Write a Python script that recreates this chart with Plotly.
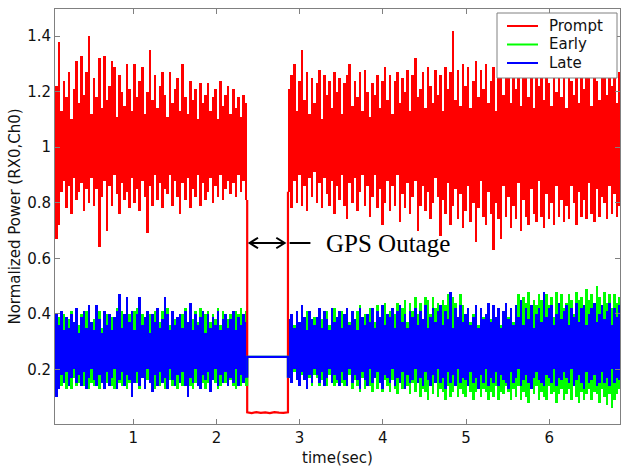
import numpy as np
import plotly.graph_objects as go

# Correlator power, in hundredths of normalized power, stored as per-bin
# maximum / minimum of the raw samples (min-max decimation of the record).
prompt_pre_max = [122,138,113,124,118,127,110,121,131,116, 133,119,127,140,112,125,118,132,114,133,
                  117,122,131,129,111,126,120,115,130,121, 113,130,118,124,129,112,120,135,117,126,
                  114,122,127,119,111,127,116,121,125,113, 130,118,112,124,117,121,110,123,116,119,
                  123,113,118,121,110,124,115,119,122,112, 121,114,118,111,119,116]
prompt_pre_min = [67,72,84,88,78,86,76,89,81,84, 87,77,85,80,89,79,85,64,82,88,
                  70,86,79,90,83,76,87,81,84,78, 89,80,85,77,88,82,69,86,79,90,
                  81,87,78,85,83,90,79,88,82,76, 87,81,89,78,85,82,90,79,87,81,
                  84,89,80,86,82,90,81,85,88,83, 87,82,90,84,88,81]
prompt_gap = [4.5, 4.2, 4.6, 4.3, 4.5, 4.2, 4.6, 4.4, 4.3, 4.5]
prompt_post_max = [121,126,130,113,124,135,117,127,112,125, 116,123,128,110,126,119,124,114,127,120,
                   125,112,123,126,130,115,124,118,127,113, 128,120,111,123,119,126,114,124,129,117,
                   126,112,124,127,116,125,120,128,113,126, 132,118,121,127,114,129,122,116,128,119,
                   126,113,129,121,127,142,117,128,115,130, 122,129,114,124,131,118,128,121,130,116,
                   124,129,113,133,125,119,127,131,116,129, 121,130,115,128,132,118,129,114,130,122,
                   128,117,131,123,115,129,120,132,118,128, 114,130,124,119,126,116,131,121,127,130,
                   115,129,124,117,127,131,119,129,122,128,116,127]
prompt_post_min = [84,78,88,80,90,79,86,77,89,82, 91,80,87,78,89,83,79,88,76,86,
                   81,90,79,74,87,80,89,77,84,90, 79,86,75,82,90,78,85,72,80,88,
                   77,86,79,90,73,83,78,87,76,82, 88,70,79,86,77,84,74,80,89,82,
                   68,81,76,87,72,79,85,74,83,71, 77,86,73,80,66,78,88,75,72,84,
                   76,63,80,74,67,86,75,82,71,79, 74,87,70,81,75,72,85,76,73,88,
                   75,71,83,74,80,72,86,75,81,73, 79,74,86,80,72,84,75,81,74,87,
                   76,73,85,75,82,80,74,86,76,83,75,79]

early_pre_max = [37,39,35,40,36,38,41,34,40,36, 40,37,41,39,36,38,40,41,35,39,
                 40,37,39,38,42,36,41,39,37,40, 38,41,42,36,40,35,39,40,37,41,
                 39,37,41,38,42,36,40,38,35,39, 40,42,36,39,38,41,37,42,38,40,
                 41,37,40,38,42,36,41,39,38,40, 37,41,40,42,38,41]
early_pre_min = [12,15,14,18,13,16,13,17,14,15, 16,14,18,13,15,14,16,13,17,14,
                 15,18,14,13,16,15,14,17,13,15, 14,16,15,13,18,14,16,15,14,13,
                 16,14,17,13,15,16,14,15,13,17, 14,16,15,14,13,15,17,14,15,13,
                 15,14,16,15,13,14,17,15,14,16, 14,13,15,14,16,14]
early_gap = [24.5, 24.5, 24.5, 24.5, 24.5, 24.5, 24.5, 24.5, 24.5, 24.5]
early_post_max = [38,40,36,39,35,40,37,41,38,36, 39,35,40,38,37,41,36,39,42,37,
                  38,41,36,42,37,40,36,41,43,38, 40,36,42,39,37,43,38,40,44,37,
                  41,38,40,44,39,42,45,37,44,41, 46,40,44,38,46,45,40,46,42,44,
                  39,45,43,47,40,46,44,39,47,43, 40,41,37,40,42,36,41,39,40,43,
                  38,42,38,41,36,40,43,39,41,37, 43,47,40,46,44,48,39,45,43,47,
                  45,40,47,43,46,39,48,44,47,42, 44,47,45,40,48,45,46,41,49,45,
                  47,43,50,46,41,48,44,47,42,47,44,46]
early_post_min = [17,15,19,16,15,18,16,15,17,14, 18,17,14,16,17,14,18,16,14,15,
                  17,15,14,16,18,13,16,14,12,17, 13,16,14,12,17,13,15,12,16,14,
                  12,16,13,11,15,13,16,14,11,15, 12,15,10,13,12,9,14,11,15,10,
                  13,12,9,14,10,12,15,10,13,11, 10,14,12,9,12,15,10,13,12,9,
                  12,10,14,9,12,11,14,12,9,13, 10,14,9,12,10,8,13,11,14,9,
                  12,10,9,14,11,12,8,11,13,9, 11,13,9,14,10,8,12,9,11,13,
                  9,12,11,8,13,10,7,11,6,9,11,13]

late_pre_max = [40,36,41,34,39,35,40,37,42,33, 39,41,35,43,37,34,43,38,33,41,
                36,40,34,39,41,47,35,40,46,37, 41,34,40,46,36,39,41,33,40,37,
                42,35,38,46,40,34,41,36,39,40, 35,41,37,44,34,40,36,39,41,33,
                40,35,39,36,41,34,38,40,35,38, 41,34,39,36,40,37]
late_pre_min = [10,13,18,15,19,14,17,20,15,18, 14,19,13,17,20,16,14,18,15,13,
                19,14,17,20,13,16,19,14,18,16, 10,15,19,14,17,13,20,15,12,18,
                14,19,15,17,13,20,16,14,18,15, 19,14,10,17,15,20,14,13,18,16,
                19,12,16,20,14,18,15,19,14,17, 15,20,14,18,15,17]
late_gap = [24.5, 24.5, 24.5, 24.5, 24.5, 24.5, 24.5, 24.5, 24.5, 24.5]
late_post_max = [38,40,35,41,37,43,39,34,41,38, 36,39,42,35,41,38,34,42,37,39,
                 41,35,40,42,36,41,38,34,42,39, 36,40,37,42,35,41,39,43,36,40,
                 39,42,35,41,43,37,40,35,41,39, 42,36,41,38,43,35,39,42,37,41,
                 43,36,41,38,48,35,42,39,43,37, 40,42,36,39,43,35,42,38,40,44,
                 37,43,39,42,35,41,44,38,42,36, 43,39,45,36,42,38,43,35,40,42,
                 37,48,39,42,43,36,40,44,38,41, 43,36,42,39,44,37,42,43,36,40,
                 42,44,37,40,43,38,41,44,36,42,39,43]
late_post_min = [17,15,20,16,14,19,16,13,18,15, 20,18,15,19,14,17,20,15,18,16,
                 14,19,16,14,20,15,18,16,13,19, 16,14,20,15,17,19,15,13,18,17,
                 15,20,14,17,15,19,13,18,15,16, 20,15,17,14,19,16,14,18,15,20,
                 15,17,13,19,15,18,14,20,15,17, 16,14,19,15,17,13,18,15,20,14,
                 17,15,19,14,18,16,15,13,19,15, 17,20,14,16,18,15,13,17,19,16,
                 15,14,18,17,15,20,14,17,16,19, 17,15,20,14,16,18,15,13,19,15,
                 16,18,14,15,19,15,17,14,20,15,17,16]

# Time spans (s) of the record before and after the outage
pre_span = (0.06, 2.37)
post_span = (2.86, 6.86)

series_names = ["Prompt", "Early", "Late"]
series_colors = ["#ff0000", "#00ff00", "#0000ff"]

x_ticks = [1, 2, 3, 4, 5, 6]
y_ticks = [0.2, 0.4, 0.6, 0.8, 1.0, 1.2, 1.4]
y_tick_text = ["0.2", "0.4", "0.6", "0.8", "1", "1.2", "1.4"]

# figure / plot-area geometry in pixels
W, H = 621, 468
L, R, T, B = 55, 1, 9, 44


def px(x, y):
    """pixel position -> paper coordinates"""
    return (x - L) / (W - L - R), (H - B - y) / (H - T - B)


def bins(span, n):
    w = (span[1] - span[0]) / n
    return np.linspace(span[0] + w / 2, span[1] - w / 2, n), w


series = [
    (prompt_pre_max, prompt_pre_min, prompt_gap, prompt_post_max, prompt_post_min),
    (early_pre_max, early_pre_min, early_gap, early_post_max, early_post_min),
    (late_pre_max, late_pre_min, late_gap, late_post_max, late_post_min),
]

sans = "DejaVu Sans"
fig = go.Figure()
for (pre_hi, pre_lo, gap, post_hi, post_lo), name, color in zip(series, series_names, series_colors):
    # dense sample envelope: one column per bin from min to max
    for span, hi, lo in ((pre_span, pre_hi, pre_lo), (post_span, post_hi, post_lo)):
        n = min(len(hi), len(lo))
        t, w = bins(span, n)
        hi = np.array(hi[:n]) / 100.0
        lo = np.array(lo[:n]) / 100.0
        fig.add_trace(go.Bar(x=t, y=hi - lo, base=lo, width=w, marker_color=color,
                             marker_line_width=0, showlegend=False, hoverinfo="skip", name=name))
    # outage: level held while the signal is lost, joined to the edges of the record
    gx = np.concatenate([[pre_span[1]], np.linspace(pre_span[1], post_span[0], len(gap)), [post_span[0]]])
    gy = np.concatenate([[pre_lo[-1] / 100.0], np.array(gap) / 100.0, [post_lo[0] / 100.0]])
    fig.add_trace(go.Scatter(x=gx, y=gy, mode="lines", line=dict(color=color, width=2.2),
                             showlegend=False, hoverinfo="skip", name=name))

axis_common = dict(showline=True, linecolor="#808080", linewidth=1, mirror="ticks",
                   ticks="inside", ticklen=5, tickcolor="#808080", showgrid=False,
                   zeroline=False, tickfont=dict(family=sans, size=15, color="#111111"))

fig.update_layout(
    width=W, height=H,
    margin=dict(l=L, r=R, t=T, b=B),
    paper_bgcolor="white", plot_bgcolor="white",
    barmode="overlay", bargap=0,
    showlegend=False,
    xaxis=dict(range=[0.06, 6.851], tickvals=x_ticks,
               title=dict(text="time(sec)", font=dict(family=sans, size=15, color="#111111"),
                          standoff=6),
               **axis_common),
    yaxis=dict(range=[0.003, 1.498], tickvals=y_ticks, ticktext=y_tick_text,
               title=dict(text="Normalized Power (RX0,Ch0)",
                          font=dict(family=sans, size=15, color="#111111"), standoff=2),
               **axis_common),
)

# legend box drawn over the data
bx0, by1 = px(497, 13)
bx1, by0 = px(617, 78)
fig.add_shape(type="rect", xref="paper", yref="paper", x0=bx0, x1=bx1, y0=by0, y1=by1,
              fillcolor="white", line=dict(color="#808080", width=1), layer="above")
for i, (name, color) in enumerate(zip(series_names, series_colors)):
    row_y = 26 + 18.5 * i
    lx0, ly = px(507, row_y)
    lx1, _ = px(538, row_y)
    tx, _ = px(547, row_y)
    fig.add_shape(type="line", xref="paper", yref="paper", x0=lx0, x1=lx1, y0=ly, y1=ly,
                  line=dict(color=color, width=2), layer="above")
    fig.add_annotation(xref="paper", yref="paper", x=tx, y=ly, xanchor="left", yanchor="middle",
                       showarrow=False, text=name,
                       font=dict(family=sans, size=15, color="#111111"))

# "GPS Outage" marker: double-headed arrow across the gap, a leader dash and the label
ay = 0.655
ax0, ax1 = 2.40, 2.82
hx, hy = 0.10, 0.019
black = dict(color="black", width=2)
fig.add_shape(type="line", x0=ax0, x1=ax1, y0=ay, y1=ay, line=black)
fig.add_shape(type="path", path=f"M {ax0+hx},{ay+hy} L {ax0},{ay} L {ax0+hx},{ay-hy}", line=black)
fig.add_shape(type="path", path=f"M {ax1-hx},{ay+hy} L {ax1},{ay} L {ax1-hx},{ay-hy}", line=black)
fig.add_shape(type="line", x0=2.88, x1=3.13, y0=ay, y1=ay, line=black)
fig.add_annotation(x=3.29, y=ay, xanchor="left", yanchor="middle", showarrow=False,
                   text="GPS Outage", font=dict(family="Liberation Serif", size=25, color="black"))

fig.write_html("out.html")
